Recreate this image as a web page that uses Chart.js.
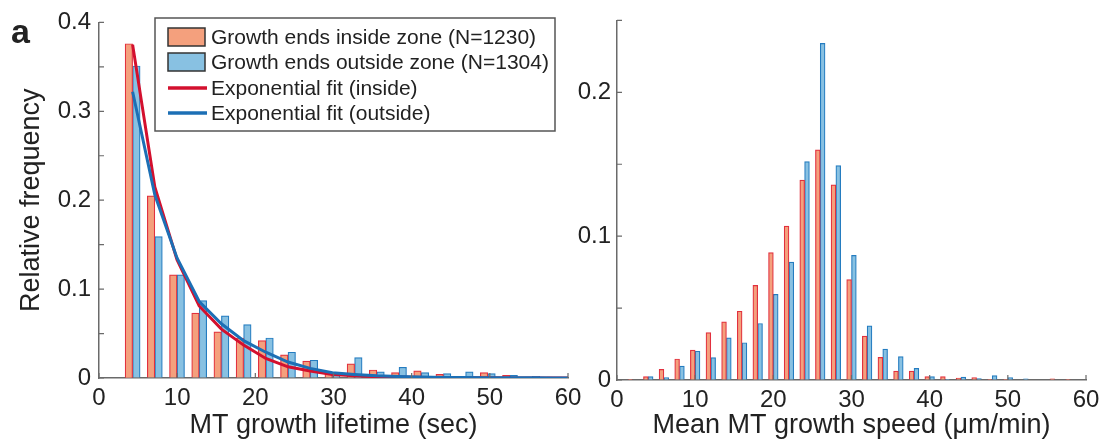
<!DOCTYPE html>
<html>
<head>
<meta charset="utf-8">
<script src="https://cdn.jsdelivr.net/npm/chart.js@4.4.1/dist/chart.umd.min.js"></script>
<style>
    body { margin: 0; background: #fff; }
    #wrap { position: relative; width: 1111px; height: 444px; }
    #leftBox { position: absolute; left: 0; top: 0; width: 600px; height: 444px; }
    #rightBox { position: absolute; left: 568px; top: 0; width: 543px; height: 444px; }
    #panel {
        position: absolute; left: 11px; top: 12px;
        font: bold 34px "Liberation Sans", Arial, sans-serif; color: #222;
    }
</style>
</head>
<body>
<div id="wrap">
    <div id="leftBox"><canvas id="lifetimeChart"></canvas></div>
    <div id="rightBox"><canvas id="speedChart"></canvas></div>
    <div id="panel">a</div>
</div>
<script>
// growth lifetime histogram (sec), bin centres
const lifetimeBins = [4.30, 7.14, 9.98, 12.82, 15.66, 18.50, 21.34, 24.18, 27.02, 29.86,
    32.70, 35.54, 38.38, 41.22, 44.06, 46.90, 49.74, 52.58, 55.42, 58.26];
const lifetimeInside = [0.376, 0.205, 0.116, 0.073, 0.052, 0.045, 0.042, 0.026, 0.019, 0.005,
    0.016, 0.009, 0.006, 0.008, 0.004, 0.002, 0.006, 0.003, 0.001, 0.001];
const lifetimeOutside = [0.351, 0.159, 0.116, 0.087, 0.070, 0.060, 0.045, 0.029, 0.020, 0.004,
    0.023, 0.007, 0.012, 0.006, 0.005, 0.007, 0.005, 0.003, 0.002, 0.001];

// exponential fits, sampled at the bin centres (plus the axis end)
const fitX = [4.30, 7.14, 9.98, 12.82, 15.66, 18.50, 21.34, 24.18, 27.02, 29.86,
    32.70, 35.54, 38.38, 41.22, 44.06, 46.90, 49.74, 52.58, 55.42, 58.26, 60];
const fitInside = [0.375, 0.215, 0.133, 0.081, 0.055, 0.037, 0.022, 0.0126, 0.0078, 0.004,
    0.0025, 0.0015, 0.001, 0.0007, 0.0005, 0.0003, 0.0002, 0.0001, 0.0001, 0.0001, 0.0001];
const fitOutside = [0.322, 0.206, 0.135, 0.086, 0.061, 0.042, 0.029, 0.018, 0.0108, 0.006,
    0.004, 0.0025, 0.0016, 0.001, 0.0007, 0.0005, 0.0003, 0.0002, 0.0002, 0.0001, 0.0001];

// mean growth speed histogram (um/min), bin centres
const speedBins = [2, 4, 6, 8, 10, 12, 14, 16, 18, 20, 22, 24, 26, 28, 30,
    32, 34, 36, 38, 40, 42, 44, 46, 48, 50, 52, 54, 56, 58];
const speedInside = [0.0005, 0.0023, 0.0074, 0.0146, 0.0208, 0.033, 0.0404, 0.0478, 0.0658, 0.0885,
    0.107, 0.139, 0.160, 0.1356, 0.0698, 0.0305, 0.0157, 0.0062, 0.0062, 0.0023,
    0.0023, 0.0014, 0.0016, 0.0005, 0.0005, 0, 0, 0.0008, 0.0005];
const speedOutside = [0, 0.0023, 0.0016, 0.0097, 0.020, 0.0155, 0.0293, 0.0259, 0.0393, 0.0596,
    0.082, 0.1518, 0.234, 0.149, 0.0866, 0.0376, 0.0215, 0.0162, 0.0081, 0.0023,
    0.0002, 0.002, 0.001, 0.003, 0.0016, 0.0008, 0, 0, 0];

const xTicks = [0, 10, 20, 30, 40, 50, 60];

const FONT = '"Liberation Sans", Arial, sans-serif';
const TEXT = '#222';
const AXIS = '#6a6a6a';

const insideFill = 'rgba(244, 160, 125, 1)';
const insideEdge = 'rgba(226, 48, 62, 1)';
const outsideFill = 'rgba(136, 193, 226, 1)';
const outsideEdge = 'rgba(36, 124, 192, 1)';
const fitRed = '#d3102e';
const fitBlue = '#1c6fb5';

const pairs = (xs, ys) => xs.map((x, i) => ({ x: x, y: ys[i] }));

// MATLAB style: short tick marks pointing into the axes
const inwardTicks = {
    id: 'inwardTicks',
    afterDatasetsDraw(chart) {
        const { ctx, chartArea } = chart;
        const xs = chart.scales.x;
        const ys = chart.scales.y;
        ctx.save();
        ctx.strokeStyle = AXIS;
        ctx.lineWidth = 1.2;
        ctx.beginPath();
        xs.ticks.forEach(t => {
            const px = xs.getPixelForValue(t.value);
            ctx.moveTo(px, chartArea.bottom);
            ctx.lineTo(px, chartArea.bottom - 5);
        });
        ys.ticks.forEach(t => {
            const py = ys.getPixelForValue(t.value);
            ctx.moveTo(chartArea.left, py);
            ctx.lineTo(chartArea.left + 5, py);
        });
        ctx.stroke();
        ctx.restore();
    }
};

// boxed legend in the upper part of the lifetime panel
const boxLegend = {
    id: 'boxLegend',
    afterDraw(chart) {
        const ctx = chart.ctx;
        const left = 155, top = 18, right = 555, bottom = 131;
        ctx.save();
        ctx.fillStyle = '#fff';
        ctx.fillRect(left, top, right - left, bottom - top);
        ctx.strokeStyle = '#555';
        ctx.lineWidth = 1.5;
        ctx.strokeRect(left, top, right - left, bottom - top);

        ctx.font = '21px ' + FONT;
        ctx.textBaseline = 'middle';
        const rows = [37, 62, 88, 113];
        chart.data.datasets.forEach((ds, r) => {
            const cy = rows[r];
            if (ds.type === 'line') {
                ctx.strokeStyle = ds.borderColor;
                ctx.lineWidth = 3.5;
                ctx.beginPath();
                ctx.moveTo(168, cy);
                ctx.lineTo(207, cy);
                ctx.stroke();
            } else {
                ctx.fillStyle = ds.backgroundColor;
                ctx.fillRect(168, cy - 9, 37, 18);
                ctx.strokeStyle = '#333';
                ctx.lineWidth = 1.5;
                ctx.strokeRect(168, cy - 9, 37, 18);
            }
            ctx.fillStyle = TEXT;
            ctx.fillText(ds.label, 211, cy + 1);
        });
        ctx.restore();
    }
};

function yLabel(v) {
    const r = Math.round(v * 100);
    return r % 10 === 0 ? String(r / 100) : '';
}

function axes(opts) {
    return {
        x: {
            type: 'linear',
            min: 0,
            max: 60,
            offset: false,
            afterBuildTicks: scale => { scale.ticks = xTicks.map(v => ({ value: v })); },
            afterFit: scale => { scale.height = opts.xHeight; },
            ticks: { font: { family: FONT, size: 24 }, color: TEXT, padding: 6, maxRotation: 0 },
            grid: { display: true, drawOnChartArea: false, drawTicks: false, offset: false },
            border: { display: true, color: AXIS, width: 1.5 },
            title: {
                display: true,
                text: opts.xTitle,
                font: { family: FONT, size: 27 },
                color: TEXT,
                padding: { top: 0, bottom: 2 }
            }
        },
        y: {
            min: 0,
            max: opts.yMax,
            afterFit: scale => { scale.width = opts.yWidth; },
            ticks: { stepSize: 0.05, callback: yLabel, font: { family: FONT, size: 24 }, color: TEXT, padding: opts.yPad },
            grid: { display: true, drawOnChartArea: false, drawTicks: false },
            border: { display: true, color: AXIS, width: 1.5 },
            title: {
                display: !!opts.yTitle,
                text: opts.yTitle || '',
                font: { family: FONT, size: 27 },
                color: TEXT,
                padding: { top: 15, bottom: 0 }
            }
        }
    };
}

function renderLifetimeChart() {
    const ctx = document.getElementById('lifetimeChart').getContext('2d');
    new Chart(ctx, {
        type: 'bar',
        data: {
            datasets: [
                {
                    label: 'Growth ends inside zone (N=1230)',
                    data: pairs(lifetimeBins, lifetimeInside),
                    backgroundColor: insideFill,
                    borderColor: insideEdge,
                    borderWidth: 1.2,
                    barThickness: 7.5,
                    order: 2
                },
                {
                    label: 'Growth ends outside zone (N=1304)',
                    data: pairs(lifetimeBins, lifetimeOutside),
                    backgroundColor: outsideFill,
                    borderColor: outsideEdge,
                    borderWidth: 1.2,
                    barThickness: 7.5,
                    order: 2
                },
                {
                    type: 'line',
                    label: 'Exponential fit (inside)',
                    data: pairs(fitX, fitInside),
                    borderColor: fitRed,
                    borderWidth: 3,
                    pointRadius: 0,
                    tension: 0,
                    order: 1
                },
                {
                    type: 'line',
                    label: 'Exponential fit (outside)',
                    data: pairs(fitX, fitOutside),
                    borderColor: fitBlue,
                    borderWidth: 3,
                    pointRadius: 0,
                    tension: 0,
                    order: 0
                }
            ]
        },
        options: {
            responsive: true,
            maintainAspectRatio: false,
            animation: false,
            layout: { padding: { left: 0, top: 16, right: 32, bottom: 0 } },
            scales: axes({ xTitle: 'MT growth lifetime (sec)', yTitle: 'Relative frequency', yMax: 0.4, yWidth: 99, yPad: 8, xHeight: 66 }),
            plugins: {
                legend: { display: false },
                tooltip: { enabled: false }
            }
        },
        plugins: [inwardTicks, boxLegend]
    });
}

function renderSpeedChart() {
    const ctx = document.getElementById('speedChart').getContext('2d');
    new Chart(ctx, {
        type: 'bar',
        data: {
            datasets: [
                {
                    label: 'Growth ends inside zone',
                    data: pairs(speedBins, speedInside),
                    backgroundColor: insideFill,
                    borderColor: insideEdge,
                    borderWidth: 1.2,
                    barThickness: 4.8
                },
                {
                    label: 'Growth ends outside zone',
                    data: pairs(speedBins, speedOutside),
                    backgroundColor: outsideFill,
                    borderColor: outsideEdge,
                    borderWidth: 1.2,
                    barThickness: 4.8
                }
            ]
        },
        options: {
            responsive: true,
            maintainAspectRatio: false,
            animation: false,
            layout: { padding: { left: 0, top: 19, right: 25, bottom: 0 } },
            scales: axes({ xTitle: 'Mean MT growth speed (\u03bcm/min)', yMax: 0.25, yWidth: 49, yPad: 6, xHeight: 64 }),
            plugins: {
                legend: { display: false },
                tooltip: { enabled: false }
            }
        },
        plugins: [inwardTicks]
    });
}

renderLifetimeChart();
renderSpeedChart();
</script>
</body>
</html>
